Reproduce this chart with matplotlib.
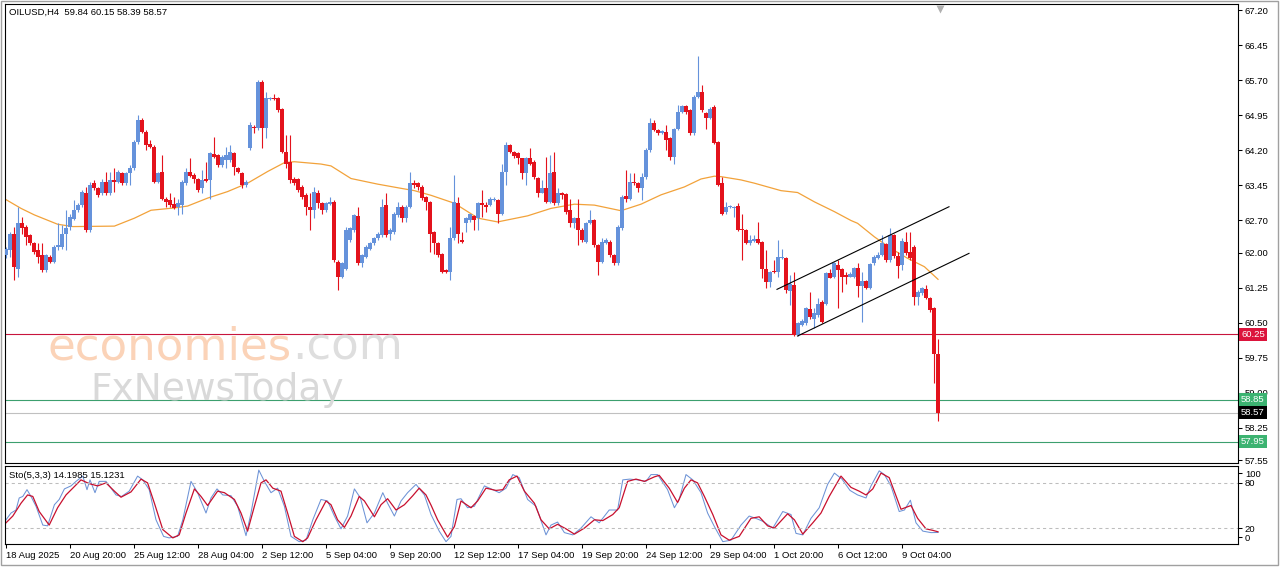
import matplotlib
matplotlib.use("Agg")
import matplotlib.pyplot as plt
from matplotlib.patches import Rectangle
import numpy as np

plt.rcParams['font.family'] = ['Liberation Sans', 'DejaVu Sans']

# OILUSD H4 candles, 18 Aug 2025 .. 9 Oct 2025
opens = [61.95, 62.06, 62.41, 61.66, 62.63, 62.56, 62.38, 62.20, 62.06, 61.95,
         61.63, 61.91, 61.81, 62.13, 62.13, 62.41, 62.56, 62.73, 62.91, 63.02,
         63.27, 62.49, 63.49, 63.38, 63.27, 63.52, 63.27, 63.56, 63.52, 63.70,
         63.49, 63.70, 63.81, 64.38, 64.84, 64.59, 64.34, 64.27, 63.52, 63.74,
         63.16, 63.13, 63.04, 62.99, 63.02, 63.49, 63.74, 63.66, 63.58, 63.38,
         63.58, 63.56, 64.11, 64.09, 63.88, 63.99, 63.99, 64.13, 63.81, 63.71,
         63.45, 64.24, 64.70, 64.67, 65.66, 64.67, 65.29, 65.31, 65.31, 65.09,
         64.16, 63.95, 63.59, 63.59, 63.41, 63.24, 62.99, 62.91, 63.27, 63.06,
         62.91, 63.04, 63.09, 61.81, 61.49, 61.66, 62.27, 62.49, 62.79, 61.77,
         61.91, 62.09, 62.20, 62.31, 62.38, 63.02, 62.41, 62.45, 62.81, 62.99,
         62.74, 62.99, 63.49, 63.49, 63.41, 63.20, 63.09, 62.45, 62.20, 61.98,
         61.64, 61.59, 62.31, 63.06, 62.27, 62.63, 62.71, 62.79, 62.74, 63.06,
         63.02, 63.02, 63.13, 63.14, 62.84, 63.73, 64.31, 64.16, 64.13, 64.02,
         63.70, 64.02, 63.95, 63.61, 63.29, 63.38, 63.09, 63.73, 63.06, 63.27,
         63.26, 62.91, 62.63, 62.74, 62.49, 62.24, 62.63, 62.70, 62.16, 61.81,
         62.20, 62.24, 61.95, 61.77, 62.52, 63.21, 63.16, 63.52, 63.50, 63.38,
         63.63, 64.20, 64.77, 64.64, 64.56, 64.59, 64.45, 64.06, 64.66, 65.02,
         65.14, 65.06, 64.56, 65.34, 65.45, 64.99, 64.88, 65.13, 64.38, 63.49,
         62.88, 62.97, 62.95, 63.00, 62.50, 62.49, 62.21, 62.26, 62.29, 62.24,
         61.66, 61.38, 61.61, 61.59, 61.88, 61.88, 61.17, 61.31, 60.24, 60.45,
         60.49, 60.79, 60.59, 60.67, 60.95, 60.91, 61.56, 61.47, 61.74, 61.65,
         61.52, 61.49, 61.49, 61.67, 61.29, 61.39, 61.25, 61.77, 61.89, 61.95,
         62.18, 61.84, 62.38, 61.94, 61.74, 62.24, 62.01, 62.13, 61.06, 61.13,
         61.22, 61.04, 60.81, 59.84]
highs = [62.13, 62.45, 62.56, 62.99, 62.77, 62.60, 62.41, 62.24, 62.20, 62.20,
         61.98, 61.95, 62.16, 62.63, 62.59, 62.91, 62.84, 63.13, 63.06, 63.34,
         63.41, 63.52, 63.56, 63.41, 63.59, 63.74, 63.74, 63.81, 63.77, 63.74,
         63.74, 63.88, 64.41, 64.95, 64.88, 64.63, 64.41, 64.31, 63.74, 64.09,
         63.20, 63.27, 63.20, 63.16, 63.56, 63.81, 64.02, 63.70, 63.61, 63.77,
         63.95, 64.16, 64.49, 64.11, 64.09, 64.27, 64.31, 64.16, 63.84, 63.74,
         63.56, 64.81, 64.74, 65.70, 65.70, 65.45, 65.34, 65.41, 65.34, 65.11,
         64.52, 64.52, 63.63, 63.61, 63.45, 63.27, 63.27, 63.41, 63.34, 63.09,
         63.09, 63.20, 63.13, 61.84, 61.81, 62.56, 62.56, 62.84, 62.99, 61.98,
         62.16, 62.24, 62.34, 62.45, 63.16, 63.27, 62.52, 62.88, 63.09, 63.02,
         63.02, 63.74, 63.56, 63.52, 63.45, 63.22, 63.11, 62.47, 62.22, 62.00,
         61.66, 62.56, 63.66, 63.20, 62.45, 62.77, 62.84, 62.81, 63.09, 63.34,
         63.09, 63.20, 63.20, 63.16, 63.91, 64.38, 64.34, 64.18, 64.16, 64.04,
         64.06, 64.24, 63.98, 63.63, 63.56, 64.06, 64.09, 64.16, 63.38, 63.31,
         63.28, 63.16, 62.77, 63.16, 62.52, 62.66, 62.91, 62.73, 62.18, 62.31,
         62.31, 62.27, 61.98, 62.59, 63.24, 63.77, 63.70, 63.70, 63.52, 63.70,
         64.24, 64.88, 64.84, 64.66, 64.63, 64.74, 64.47, 64.68, 65.16, 65.16,
         65.16, 65.09, 65.38, 66.21, 65.59, 65.01, 65.13, 65.16, 64.40, 63.63,
         63.09, 63.02, 63.01, 63.06, 62.84, 62.51, 62.38, 62.38, 62.66, 62.26,
         62.06, 61.61, 61.84, 62.27, 62.09, 61.90, 61.52, 61.59, 60.51, 60.59,
         60.84, 61.16, 60.81, 61.02, 60.98, 61.59, 61.66, 61.81, 61.84, 61.67,
         61.59, 61.59, 61.70, 61.77, 61.59, 61.41, 61.77, 61.95, 62.02, 62.38,
         62.20, 62.52, 62.41, 62.01, 62.31, 62.45, 62.45, 62.16, 61.20, 61.27,
         61.31, 61.06, 60.84, 60.15]
lows = [61.88, 61.91, 61.41, 61.49, 62.41, 62.16, 62.16, 61.98, 61.77, 61.59,
        61.59, 61.77, 61.77, 62.06, 62.09, 62.06, 62.49, 62.70, 62.88, 62.99,
        62.45, 62.45, 63.34, 63.20, 63.24, 63.24, 63.24, 63.31, 63.49, 63.45,
        63.45, 63.45, 63.77, 64.34, 64.56, 64.20, 64.24, 63.49, 63.49, 63.13,
        62.99, 62.99, 62.93, 62.81, 62.84, 63.45, 63.63, 63.49, 63.31, 63.29,
        63.52, 63.16, 64.04, 63.84, 63.84, 63.81, 63.95, 63.66, 63.70, 63.38,
        63.41, 64.20, 64.56, 64.63, 64.24, 64.45, 65.27, 65.27, 65.02, 64.13,
        63.81, 63.49, 63.45, 63.31, 63.16, 62.81, 62.49, 62.74, 62.95, 62.84,
        62.88, 63.02, 61.81, 61.20, 61.45, 61.63, 62.24, 62.45, 61.74, 61.70,
        61.88, 62.06, 62.16, 62.27, 62.34, 62.34, 62.27, 62.41, 62.77, 62.66,
        62.66, 62.95, 63.38, 63.34, 63.13, 62.91, 62.02, 61.98, 61.91, 61.56,
        61.56, 61.41, 62.27, 62.20, 62.20, 62.45, 62.66, 62.49, 62.49, 62.77,
        62.88, 63.00, 63.11, 62.63, 62.81, 63.45, 64.13, 64.04, 63.91, 63.59,
        63.45, 63.88, 63.59, 63.20, 63.27, 63.06, 63.06, 63.02, 63.02, 63.16,
        62.84, 62.56, 62.52, 62.16, 62.24, 62.20, 62.61, 62.13, 61.52, 61.77,
        62.18, 61.91, 61.74, 61.74, 62.49, 63.09, 63.13, 63.45, 63.31, 63.13,
        63.59, 64.16, 64.61, 64.52, 64.54, 64.20, 63.99, 63.91, 64.63, 65.00,
        64.98, 64.52, 64.52, 65.31, 65.02, 64.66, 64.86, 64.34, 63.43, 62.81,
        62.84, 62.95, 62.77, 62.47, 61.84, 62.18, 62.16, 62.24, 62.19, 61.45,
        61.24, 61.27, 61.57, 61.49, 61.86, 61.13, 60.88, 60.22, 60.22, 60.43,
        60.45, 60.59, 60.38, 60.63, 60.49, 60.88, 61.45, 61.45, 60.81, 61.16,
        61.34, 61.47, 61.45, 61.06, 60.52, 61.22, 61.22, 61.73, 61.87, 61.92,
        61.81, 61.81, 61.89, 61.45, 61.63, 61.95, 61.84, 60.88, 60.88, 61.10,
        61.00, 60.74, 59.20, 58.39]
closes = [62.09, 62.41, 61.70, 62.63, 62.52, 62.34, 62.20, 62.02, 61.91, 61.63,
          61.95, 61.81, 62.13, 62.16, 62.41, 62.52, 62.77, 62.91, 63.02, 63.31,
          62.49, 63.45, 63.38, 63.24, 63.52, 63.27, 63.56, 63.52, 63.74, 63.49,
          63.70, 63.81, 64.38, 64.84, 64.59, 64.31, 64.27, 63.52, 63.70, 63.16,
          63.09, 63.02, 62.95, 63.06, 63.52, 63.74, 63.64, 63.59, 63.34, 63.56,
          63.54, 64.13, 64.06, 63.88, 64.06, 64.09, 64.16, 63.84, 63.74, 63.45,
          63.52, 64.74, 64.67, 65.66, 64.67, 65.31, 65.31, 65.29, 65.06, 64.16,
          63.91, 63.56, 63.49, 63.34, 63.20, 62.99, 62.91, 63.31, 63.06, 62.91,
          63.06, 63.09, 61.84, 61.49, 61.77, 62.49, 62.52, 62.81, 61.77, 61.95,
          62.13, 62.20, 62.31, 62.41, 62.99, 62.38, 62.49, 62.84, 62.99, 62.74,
          62.99, 63.49, 63.45, 63.41, 63.18, 63.09, 62.41, 62.20, 61.95, 61.59,
          61.59, 62.31, 63.09, 62.41, 62.24, 62.74, 62.82, 62.70, 63.07, 63.02,
          62.99, 63.16, 63.16, 62.84, 63.73, 64.31, 64.16, 64.07, 64.02, 63.70,
          64.02, 63.91, 63.63, 63.29, 63.38, 63.09, 63.70, 63.06, 63.29, 63.24,
          62.88, 62.63, 62.74, 62.49, 62.27, 62.63, 62.70, 62.16, 61.81, 62.24,
          62.27, 61.95, 61.77, 62.56, 63.20, 63.15, 63.52, 63.49, 63.38, 63.63,
          64.20, 64.77, 64.64, 64.56, 64.61, 64.41, 64.06, 64.66, 65.02, 65.14,
          65.02, 64.56, 65.34, 65.45, 65.06, 64.88, 65.09, 64.36, 63.45, 62.84,
          62.99, 63.00, 62.99, 62.49, 62.49, 62.21, 62.28, 62.29, 62.21, 61.66,
          61.38, 61.59, 61.59, 61.90, 61.91, 61.20, 61.34, 60.24, 60.49, 60.54,
          60.81, 60.63, 60.70, 60.91, 60.52, 61.56, 61.46, 61.77, 61.63, 61.49,
          61.47, 61.54, 61.67, 61.29, 61.39, 61.25, 61.75, 61.91, 61.96, 62.20,
          61.84, 62.39, 61.94, 61.72, 62.25, 61.99, 61.88, 61.06, 61.16, 61.24,
          61.02, 60.77, 59.82, 58.57]

# orange moving average, read at points along the line
ma_x = [-1.25, 3.75, 7.1, 12.9, 16.7, 27.1, 32.1, 36.25, 42.1, 45.4,
        50.4, 55.4, 60.4, 65.4, 69.6, 72.1, 78.75, 81.25, 86.25, 92.9,
        98.75, 102.1, 106.25, 112.1, 118, 122.9, 130.4, 136.25, 142.1, 147.1,
        153.75, 158.75, 163.75, 169.6, 173.75, 177.1, 178.75, 183.75, 187.1, 193.75,
        197.9, 202.1, 207.1, 211.25, 212.9, 217.1, 221.25, 225.4, 229.6, 233]
ma_y = [63.20, 62.95, 62.81, 62.61, 62.56, 62.57, 62.74, 62.91, 62.96, 63.00,
        63.17, 63.31, 63.49, 63.74, 63.93, 63.95, 63.90, 63.86, 63.59, 63.47,
        63.38, 63.33, 63.23, 63.06, 62.74, 62.66, 62.79, 62.95, 63.04, 63.02,
        62.90, 63.04, 63.24, 63.41, 63.58, 63.64, 63.63, 63.56, 63.49, 63.33,
        63.29, 63.09, 62.88, 62.69, 62.63, 62.34, 62.09, 61.88, 61.70, 61.43]

# rising channel drawn on the chart
chan_up_x = [192.75, 235.75]
chan_up_y = [61.215, 62.985]
chan_lo_x = [197.9, 240.75]
chan_lo_y = [60.215, 61.986]

# horizontal levels
resist = 60.25
supports = [58.85, 57.95]
last_price = 58.57

# Stochastic(5,3,3): main (blue) and signal (red)
k_x = [0, 1.25, 2.5, 3.3, 4.2, 5.25, 6.25, 7.5, 9.2, 10.4,
       12.1, 13.3, 14.6, 16.25, 17.5, 19.2, 20.25, 21, 22.25, 23.3,
       25, 26.25, 27.5, 28.9, 30.8, 32.9, 34.2, 35.8, 37.5, 39.4,
       40.8, 42.9, 44.2, 46.25, 47.9, 50, 51.25, 52.75, 54.2, 56.25,
       57.9, 60, 61.25, 63.2, 64.6, 66.25, 67.9, 69.6, 71.25, 73.3,
       75, 76.7, 78.75, 80.4, 82.1, 83.75, 85.4, 87.1, 88.6, 90.25,
       92.1, 94.2, 95.4, 97.1, 98.75, 100.4, 102.5, 104.6, 106.25, 108.3,
       110, 111.25, 112.75, 113.75, 115.4, 117.1, 119.6, 121.7, 123.3, 125,
       126.7, 128.3, 130.4, 132.5, 135, 136.25, 137.9, 139.6, 141.7, 143.75,
       146.25, 148.3, 150.8, 152.9, 154.2, 155.9, 157.9, 160, 161.25, 162.9,
       165.4, 167.1, 168.3, 170, 171.7, 173.75, 175.4, 177.1, 179.2, 181.25,
       183.75, 185.8, 187.9, 189.2, 191.7, 194.2, 196.25, 197.5, 199.2, 201.25,
       203.3, 205.4, 207.1, 209, 211, 212.9, 215, 216.25, 218.3, 219.6,
       221.25, 223.3, 224.6, 226.1, 227.5, 229.2, 231.25, 233]
k_val = [31, 40, 44, 60, 62, 71, 62, 49, 24, 23,
         51, 58, 72, 76, 82, 89, 71, 84, 67, 82,
         82, 73, 64, 62, 69, 89, 84, 71, 31, 9,
         7, 9, 31, 82, 67, 40, 60, 72, 64, 63,
         49, 10, 40, 97, 82, 67, 73, 49, 9, 2,
         4, 31, 58, 56, 36, 19, 36, 72, 60, 27,
         40, 67, 53, 36, 56, 67, 78, 64, 38, 16,
         2, 9, 58, 59, 47, 49, 76, 71, 67, 73,
         91, 87, 58, 49, 11, 24, 28, 14, 11, 20,
         35, 27, 44, 44, 84, 85, 84, 82, 91, 91,
         71, 47, 58, 91, 84, 67, 40, 22, 2, 4,
         24, 36, 32, 29, 20, 42, 38, 13, 11, 33,
         47, 78, 93, 85, 70, 64, 60, 76, 96, 91,
         76, 42, 44, 57, 27, 16, 14, 14.2]
d_x = [0, 1.7, 3.75, 5.4, 6.7, 8.3, 10.8, 12.9, 15, 16.7,
       18.75, 20.8, 22.9, 25, 27.1, 28.75, 31.25, 33.75, 35.4, 37.1,
       39.2, 41.7, 43.3, 45, 47.1, 48.75, 50.4, 52.9, 54.6, 57.1,
       58.75, 60.4, 62.1, 63.75, 65, 66.7, 68.75, 70.4, 72.1, 74.2,
       75.4, 77.5, 80, 81.25, 82.9, 84.6, 86.25, 88.3, 89.6, 92.1,
       93.75, 95.4, 97.5, 99.6, 101.7, 103.3, 105, 106.3, 107.9, 110.4,
       112.1, 113.75, 116.25, 117.9, 120, 122.5, 124.2, 125.8, 127.75, 129.6,
       132.1, 133.75, 135.8, 137.9, 140, 142.1, 144.6, 147.1, 149.2, 151.7,
       153.3, 155.4, 157.5, 159.6, 162.1, 163.3, 165.8, 167.9, 169.6, 171.25,
       172.9, 174.6, 176.7, 178.75, 180.8, 183.3, 186.25, 188.3, 190.4, 192.1,
       195.4, 197.1, 199.2, 201.7, 203.75, 205.8, 208.75, 211.25, 213.3, 215,
       216.7, 218.75, 220.8, 223.75, 226.25, 227.9, 230, 231.7, 233]
d_val = [27, 36, 53, 64, 62, 42, 24, 47, 64, 73,
         84, 79, 76, 80, 69, 61, 68, 85, 80, 53,
         18, 7, 11, 40, 72, 62, 50, 69, 67, 58,
         40, 16, 49, 80, 84, 73, 69, 40, 9, 2,
         7, 31, 56, 51, 31, 21, 36, 62, 56, 35,
         51, 59, 44, 51, 63, 73, 64, 50, 31, 8,
         22, 56, 47, 56, 73, 70, 71, 84, 89, 69,
         53, 31, 19, 25, 19, 12, 20, 31, 30, 38,
         47, 82, 85, 82, 88, 90, 73, 54, 73, 84,
         80, 62, 38, 11, 4, 9, 33, 35, 23, 20,
         39, 31, 12, 27, 40, 62, 89, 74, 69, 64,
         72, 93, 87, 45, 50, 33, 19, 17, 15.1]

tick_bars = [0, 16, 32, 48, 64, 80, 96, 112, 128, 144, 160, 176, 192, 208, 224]
tick_labels = ["18 Aug 2025", "20 Aug 20:00", "25 Aug 12:00", "28 Aug 04:00",
               "2 Sep 12:00", "5 Sep 04:00", "9 Sep 20:00", "12 Sep 12:00",
               "17 Sep 04:00", "19 Sep 20:00", "24 Sep 12:00", "29 Sep 04:00",
               "1 Oct 20:00", "6 Oct 12:00", "9 Oct 04:00"]
price_ticks = [67.20, 66.45, 65.70, 64.95, 64.20, 63.45, 62.70, 62.00,
               61.25, 60.50, 59.75, 59.00, 58.25, 57.55]

W, H = 1280, 567
BULL = '#6592db'
BEAR = '#e3121c'
FS = 6.8

fig = plt.figure(figsize=(W / 100, H / 100), dpi=100)
fig.patch.set_facecolor('white')
ax = fig.add_axes([5 / W, (H - 463.3) / H, 1233 / W, 459.3 / H])
ax2 = fig.add_axes([5 / W, (H - 544.3) / H, 1233 / W, 78 / H])

o = np.array(opens); h = np.array(highs); l = np.array(lows); c = np.array(closes)
x = np.arange(len(o))
cols = np.where(c >= o, BULL, BEAR)
ax.vlines(x, l, h, colors=cols, lw=0.8, zorder=3)
ax.bar(x, np.maximum(np.abs(c - o), 0.012), bottom=np.minimum(o, c),
       width=0.8, color=cols, linewidth=0, zorder=3)

ax.plot(ma_x, ma_y, color='#f2a23a', lw=0.9, zorder=2)
ax.plot(chan_up_x, chan_up_y, color='black', lw=0.8, zorder=4)
ax.plot(chan_lo_x, chan_lo_y, color='black', lw=0.8, zorder=4)

ax.axhline(resist, color='#c8143c', lw=0.8, zorder=1)
for s in supports:
    ax.axhline(s, color='#3c9f6e', lw=0.8, zorder=1)
ax.axhline(last_price, color='#c0c0c0', lw=0.8, zorder=1)

ax.set_xlim(-0.25, 308)
ax.set_ylim(57.487, 67.33)
ax.set_xticks([])
ax.yaxis.tick_right()
ax.set_yticks(price_ticks)
ax.set_yticklabels(['%.2f' % p for p in price_ticks])
ax.tick_params(axis='y', direction='out', length=3, width=0.75, pad=2,
               labelsize=FS, colors='black')
for sp in ax.spines.values():
    sp.set_linewidth(0.8)
    sp.set_color('black')

tr = ax.get_yaxis_transform()
def price_box(val, face):
    ax.text(1.0025, val, '%.2f' % val, transform=tr, ha='left', va='center',
            fontsize=FS, color='white', clip_on=False, zorder=10,
            bbox=dict(boxstyle='square,pad=0.22', fc=face, ec='none'))

price_box(resist, '#dc143c')
for s in supports:
    price_box(s, '#3cb371')
price_box(last_price, 'black')

ax.text(0.0032, 0.991, 'OILUSD,H4  59.84 60.15 58.39 58.57', transform=ax.transAxes,
        ha='left', va='top', fontsize=FS, color='black')
ax.plot([233.5], [0.99], marker='v', ms=6, color='#b0b0b0', mec='none',
        transform=ax.get_xaxis_transform(), clip_on=False, zorder=5)

# stochastic panel
ax2.plot(k_x, k_val, color='#6d93d6', lw=0.75)
ax2.plot(d_x, d_val, color='#c8102e', lw=0.9)
for lv in (80, 20):
    ax2.axhline(lv, color='#bdbdbd', lw=0.75, dashes=(3, 3))
ax2.set_xlim(-0.25, 308)
ax2.set_ylim(-1.5, 102)
ax2.yaxis.tick_right()
ax2.set_yticks([8, 20, 80, 93])
ax2.set_yticklabels(['0', '20', '80', '100'])
ax2.tick_params(axis='y', direction='out', length=3, width=0.75, pad=2,
                labelsize=FS, colors='black')
ax2.set_xticks(tick_bars)
ax2.set_xticklabels(tick_labels)
ax2.tick_params(axis='x', direction='out', length=3, width=0.75, pad=2,
                labelsize=FS, colors='black')
for lab in ax2.get_xticklabels():
    lab.set_ha('left')
for sp in ax2.spines.values():
    sp.set_linewidth(0.8)
    sp.set_color('black')
ax2.text(0.0032, 0.94, 'Sto(5,3,3) 14.1985 15.1231', transform=ax2.transAxes,
         ha='left', va='top', fontsize=FS, color='black')

# watermark
rend = fig.canvas.get_renderer()
t1 = fig.text(48 / W, 1 - 360 / H, 'economies', fontsize=32.5, color='#fbd3b8',
              family='DejaVu Sans', va='baseline', ha='left', zorder=20)
bb = t1.get_window_extent(renderer=rend)
fig.text(bb.x1 / W, 1 - 360 / H, '.com', fontsize=32.5, color='#dedede',
         family='DejaVu Sans', va='baseline', ha='left', zorder=20)
fig.text(90 / W, 1 - 400 / H, 'FxNewsToday', fontsize=27, color='#d9d9d9',
         family='DejaVu Sans', va='baseline', ha='left', zorder=20)

# outer window frame
fig.patches.append(Rectangle((1 / W, 2 / H), 1276.5 / W, 564 / H, transform=fig.transFigure,
                             fill=False, ec='#a0a0a0', lw=1.0))

fig.savefig('out.png', dpi=100)
